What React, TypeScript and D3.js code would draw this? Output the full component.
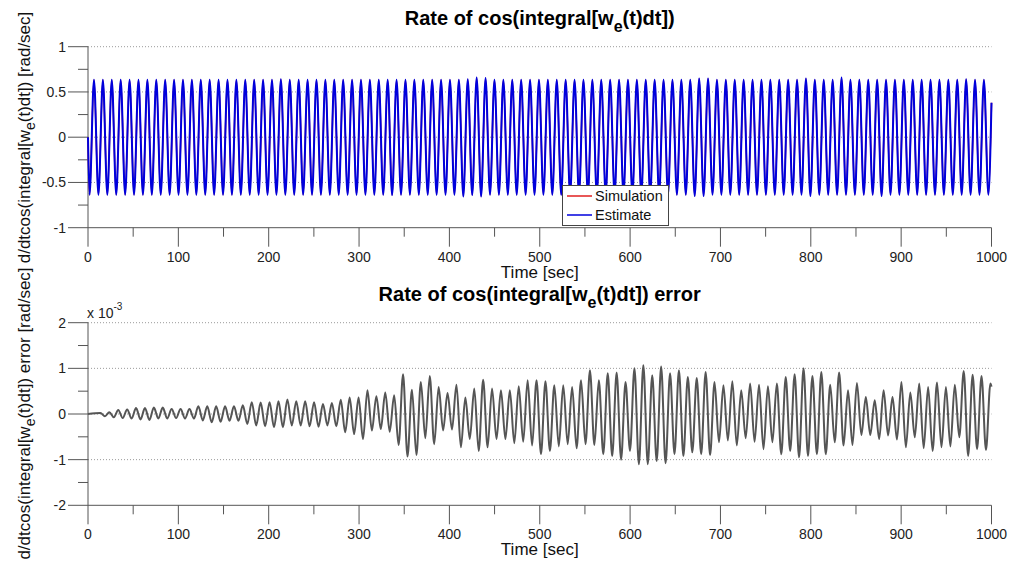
import React from 'react';
import * as d3 from 'd3';

// Time axis
const timeTicks = [0, 100, 200, 300, 400, 500, 600, 700, 800, 900, 1000];
const timeMinorTicks = [50, 150, 250, 350, 450, 550, 650, 750, 850, 950];

// Upper panel axis
const rateTicks = [-1, -0.5, 0, 0.5, 1];
const rateMinorTicks = [-0.75, -0.25, 0.25, 0.75];
const rateGrid = [-0.5, 0, 0.5, 1];

// Lower panel axis (x 10^-3)
const errorTicks = [-2, -1, 0, 1, 2];
const errorMinorTicks = [-1.5, -0.5, 0.5, 1.5];
const errorGrid = [-1, 0, 1, 2];

// Both signals oscillate with the same half cycle (seconds between extrema)
const halfCycle = 4.925;

// Rate signal: first trough time, start/end values and the extrema of each cycle
const rateFirstTrough = 1.7;
const rateStartValue = 0;
const rateEndValue = 0.38;
const rateTroughs = [
  -0.635, -0.635, -0.635, -0.635, -0.635, -0.635, -0.635, -0.635, -0.635, -0.635,
  -0.635, -0.635, -0.635, -0.635, -0.635, -0.635, -0.635, -0.635, -0.635, -0.635,
  -0.635, -0.635, -0.635, -0.635, -0.635, -0.635, -0.635, -0.635, -0.635, -0.635,
  -0.635, -0.635, -0.635, -0.635, -0.64, -0.635, -0.635, -0.635, -0.635, -0.635,
  -0.635, -0.635, -0.655, -0.64, -0.655, -0.635, -0.635, -0.635, -0.635, -0.635,
  -0.635, -0.635, -0.635, -0.635, -0.635, -0.635, -0.635, -0.635, -0.635, -0.635,
  -0.635, -0.635, -0.635, -0.635, -0.635, -0.635, -0.635, -0.635, -0.65, -0.65,
  -0.635, -0.635, -0.635, -0.635, -0.635, -0.635, -0.635, -0.635, -0.635, -0.635,
  -0.635, -0.65, -0.635, -0.635, -0.635, -0.635, -0.635, -0.635, -0.635, -0.65,
  -0.635, -0.635, -0.635, -0.635, -0.635, -0.635, -0.635, -0.635, -0.635, -0.635,
  -0.635, -0.635,
];
const ratePeaks = [
  0.635, 0.635, 0.635, 0.635, 0.635, 0.635, 0.635, 0.635, 0.635, 0.635,
  0.635, 0.635, 0.635, 0.635, 0.635, 0.635, 0.635, 0.635, 0.635, 0.635,
  0.635, 0.64, 0.635, 0.635, 0.635, 0.635, 0.635, 0.635, 0.635, 0.635,
  0.635, 0.635, 0.635, 0.635, 0.635, 0.635, 0.635, 0.635, 0.635, 0.635,
  0.635, 0.635, 0.64, 0.66, 0.655, 0.635, 0.635, 0.635, 0.635, 0.635,
  0.635, 0.635, 0.635, 0.635, 0.635, 0.635, 0.635, 0.635, 0.635, 0.635,
  0.635, 0.635, 0.635, 0.635, 0.635, 0.635, 0.635, 0.635, 0.65, 0.65,
  0.635, 0.635, 0.635, 0.635, 0.635, 0.635, 0.635, 0.635, 0.635, 0.635,
  0.65, 0.635, 0.635, 0.635, 0.66, 0.635, 0.635, 0.635, 0.635, 0.635,
  0.635, 0.635, 0.635, 0.635, 0.635, 0.635, 0.635, 0.635, 0.64, 0.635,
  0.635,
];

// Error signal (x 10^-3): first peak time, start/end values and per-cycle extrema
const errorFirstPeak = 13.8;
const errorStartValue = 0;
const errorEndValue = 0.6;
const errorPeaks = [
  0.02, 0.04, 0.09, 0.10, 0.13, 0.13, 0.14, 0.14, 0.11, 0.11,
  0.11, 0.17, 0.17, 0.17, 0.17, 0.17, 0.19, 0.26, 0.25, 0.26,
  0.28, 0.32, 0.28, 0.28, 0.26, 0.22, 0.24, 0.31, 0.36, 0.36,
  0.52, 0.39, 0.47, 0.41, 0.87, 0.53, 0.70, 0.83, 0.59, 0.46,
  0.64, 0.36, 0.56, 0.75, 0.56, 0.52, 0.52, 0.61, 0.74, 0.74,
  0.72, 0.63, 0.63, 0.59, 0.74, 0.96, 0.74, 0.89, 0.91, 0.70,
  1.0, 1.07, 0.85, 1.04, 0.89, 0.96, 0.81, 0.79, 0.92, 0.70,
  0.63, 0.72, 0.52, 0.67, 0.64, 0.61, 0.67, 0.81, 0.87, 1.0,
  0.83, 0.92, 0.64, 0.91, 0.52, 0.68, 0.37, 0.30, 0.52, 0.37,
  0.70, 0.47, 0.67, 0.59, 0.69, 0.59, 0.64, 0.94, 0.86, 0.83,
  0.67,
];
const errorTroughs = [
  -0.05, -0.07, -0.09, -0.10, -0.12, -0.13, -0.10, -0.10, -0.09, -0.10,
  -0.10, -0.14, -0.18, -0.17, -0.15, -0.15, -0.22, -0.25, -0.27, -0.29,
  -0.29, -0.25, -0.25, -0.27, -0.28, -0.25, -0.27, -0.40, -0.44, -0.55,
  -0.36, -0.33, -0.39, -0.68, -0.93, -0.90, -0.53, -0.66, -0.36, -0.34,
  -0.73, -0.55, -0.81, -0.73, -0.55, -0.55, -0.64, -0.61, -0.69, -0.88,
  -0.81, -0.71, -0.66, -0.75, -0.66, -0.68, -0.88, -0.92, -1.0, -0.81,
  -1.10, -1.10, -1.03, -1.08, -0.88, -0.92, -0.84, -0.88, -0.90, -0.62,
  -0.58, -0.69, -0.53, -0.61, -0.77, -0.62, -0.88, -0.81, -0.95, -0.92,
  -0.88, -0.88, -0.62, -0.69, -0.68, -0.46, -0.46, -0.55, -0.47, -0.56,
  -0.73, -0.51, -0.75, -0.81, -0.73, -0.71, -0.51, -0.92, -0.77, -0.79,
];

type Pt = [number, number];

// Interleave two extrema lists into one time series
function buildSeries(
  start: number,
  first: number[],
  second: number[],
  firstTime: number,
  endValue: number,
): Pt[] {
  const pts: Pt[] = [[0, start]];
  const n = Math.max(first.length, second.length);
  for (let i = 0; i < n; i++) {
    if (i < first.length) pts.push([firstTime + 2 * i * halfCycle, first[i]]);
    if (i < second.length) pts.push([firstTime + (2 * i + 1) * halfCycle, second[i]]);
  }
  pts.push([1000, endValue]);
  return pts.filter((p) => p[0] <= 1000);
}

const simulationSeries = buildSeries(rateStartValue, rateTroughs, ratePeaks, rateFirstTrough, rateEndValue);
const estimateSeries = buildSeries(rateStartValue, rateTroughs, ratePeaks, rateFirstTrough, rateEndValue);
const errorSeries = buildSeries(errorStartValue, errorPeaks, errorTroughs, errorFirstPeak, errorEndValue);

const W = 1010;
const H = 562;
const FONT = "'Liberation Sans', Arial, Helvetica, sans-serif";
const AXIS = '#555';
const GRID = '#9a9a9a';
const RED = '#e01f1f';
const BLUE = '#0000dc';

const x = d3.scaleLinear().domain([0, 1000]).range([88, 991.5]);
const yTop = d3.scaleLinear().domain([-1, 1]).range([227.7, 46.7]);
const yBot = d3.scaleLinear().domain([-2, 2]).range([505.3, 322.7]);

function Panel({
  y,
  ticks,
  minor,
  grid,
  fmt,
}: {
  y: d3.ScaleLinear<number, number>;
  ticks: number[];
  minor: number[];
  grid: number[];
  fmt: (v: number) => string;
}) {
  const [y0, y1] = y.range();
  const [x0, x1] = x.range();
  return (
    <g>
      {grid.map((v) => (
        <line key={'g' + v} x1={x0} x2={x1} y1={y(v)} y2={y(v)} stroke={GRID} strokeWidth={1} strokeDasharray="1,2" />
      ))}
      <line x1={x0} x2={x0} y1={y0} y2={y1} stroke={AXIS} strokeWidth={1} />
      <line x1={x0} x2={x1} y1={y0} y2={y0} stroke={AXIS} strokeWidth={1} />
      {ticks.map((v) => (
        <g key={'t' + v}>
          <line x1={x0 - 20} x2={x0} y1={y(v)} y2={y(v)} stroke={AXIS} strokeWidth={1} />
          <text x={x0 - 22} y={y(v) + 5} textAnchor="end" fontSize={14} fontFamily={FONT} fill="#222">
            {fmt(v)}
          </text>
        </g>
      ))}
      {minor.map((v) => (
        <line key={'m' + v} x1={x0 - 10} x2={x0} y1={y(v)} y2={y(v)} stroke={AXIS} strokeWidth={1} />
      ))}
      {timeTicks.map((t) => (
        <g key={'xt' + t}>
          <line x1={x(t)} x2={x(t)} y1={y0} y2={y0 + 19} stroke={AXIS} strokeWidth={1} />
          <text x={x(t)} y={y0 + 34} textAnchor="middle" fontSize={14} fontFamily={FONT} fill="#222">
            {t}
          </text>
        </g>
      ))}
      {timeMinorTicks.map((t) => (
        <line key={'xm' + t} x1={x(t)} x2={x(t)} y1={y0} y2={y0 + 9} stroke={AXIS} strokeWidth={1} />
      ))}
      <text x={(x0 + x1) / 2} y={y0 + 50} textAnchor="middle" fontSize={17} fontFamily={FONT} fill="#111">
        Time [sec]
      </text>
    </g>
  );
}

function Title({ cx, y, suffix }: { cx: number; y: number; suffix: string }) {
  return (
    <text x={cx} y={y} textAnchor="middle" fontSize={20} fontWeight="bold" fontFamily={FONT} fill="#000">
      Rate of cos(integral[w
      <tspan dy={7} fontSize={16}>e</tspan>
      <tspan dy={-7}>(t)dt]){suffix}</tspan>
    </text>
  );
}

function YLabel({ cy, middle }: { cy: number; middle: string }) {
  return (
    <text
      transform={`translate(30,${cy}) rotate(-90)`}
      textAnchor="middle"
      fontSize={17}
      fontFamily={FONT}
      fill="#111"
    >
      d/dtcos(integral[w
      <tspan dy={5} fontSize={14}>e</tspan>
      <tspan dy={-5}>(t)dt]){middle} [rad/sec]</tspan>
    </text>
  );
}

export default function App() {
  const lineTop = d3
    .line<Pt>()
    .x((d) => x(d[0]))
    .y((d) => yTop(d[1]))
    .curve(d3.curveMonotoneX);
  const lineBot = d3
    .line<Pt>()
    .x((d) => x(d[0]))
    .y((d) => yBot(d[1]))
    .curve(d3.curveMonotoneX);

  const fmtTop = (v: number) => String(v);
  const fmtBot = (v: number) => String(v);
  const cx = (x.range()[0] + x.range()[1]) / 2;

  return (
    <svg
      width={W}
      height={H}
      viewBox={`0 0 ${W} ${H}`}
      style={{ position: 'absolute', left: 0, top: 0, background: '#fff' }}
    >
      <rect width={W} height={H} fill="#fff" />

      {/* Upper panel */}
      <Title cx={cx} y={25} suffix="" />
      <Panel y={yTop} ticks={rateTicks} minor={rateMinorTicks} grid={rateGrid} fmt={fmtTop} />
      <path d={lineTop(simulationSeries) || ''} fill="none" stroke={RED} strokeWidth={1.5} />
      <path d={lineTop(estimateSeries) || ''} fill="none" stroke={BLUE} strokeWidth={2} />
      <YLabel cy={137.5} middle="" />

      {/* Legend */}
      <g>
        <rect x={562.5} y={185.5} width={106} height={40} fill="#fff" stroke="#444" strokeWidth={1} />
        <line x1={567} x2={592} y1={196} y2={196} stroke={RED} strokeWidth={1.5} />
        <text x={595} y={201} fontSize={14.5} fontFamily={FONT} fill="#111">Simulation</text>
        <line x1={567} x2={592} y1={215} y2={215} stroke={BLUE} strokeWidth={1.5} />
        <text x={595} y={220} fontSize={14.5} fontFamily={FONT} fill="#111">Estimate</text>
      </g>

      {/* Lower panel */}
      <Title cx={cx} y={301} suffix=" error" />
      <Panel y={yBot} ticks={errorTicks} minor={errorMinorTicks} grid={errorGrid} fmt={fmtBot} />
      <path d={lineBot(errorSeries) || ''} fill="none" stroke="#555" strokeWidth={2} />
      <YLabel cy={413.5} middle=" error" />
      <text x={87} y={318} fontSize={14} fontFamily={FONT} fill="#222">
        x 10
        <tspan dy={-8} fontSize={10}>-3</tspan>
      </text>
    </svg>
  );
}
